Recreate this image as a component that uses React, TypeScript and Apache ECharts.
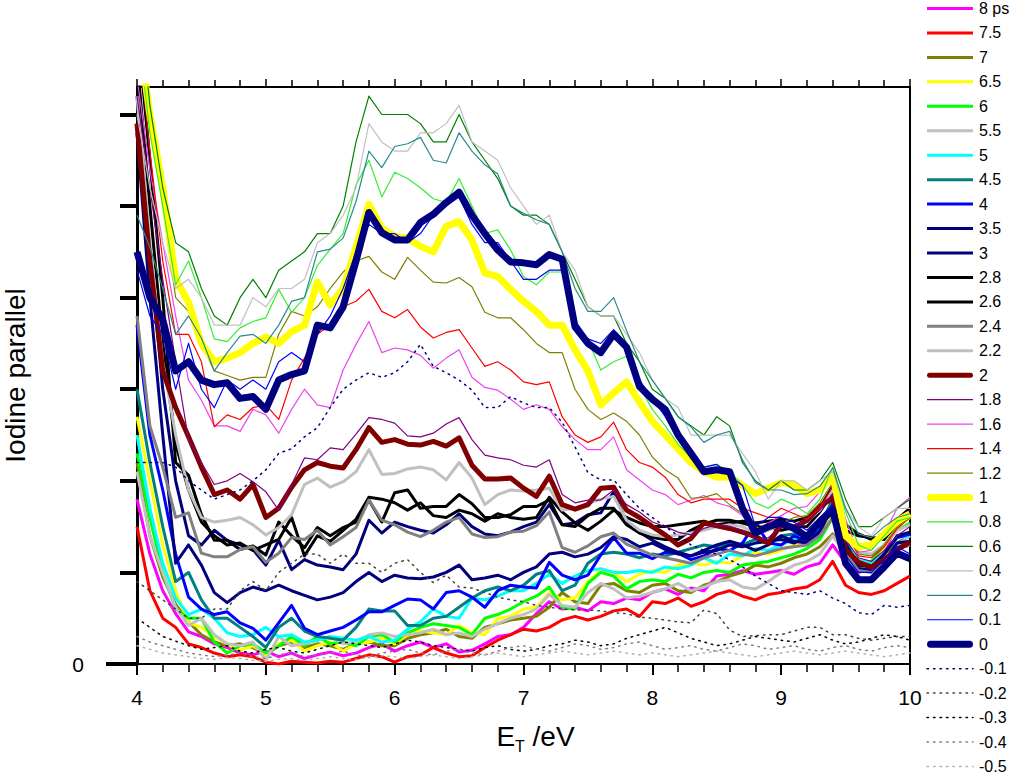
import React, { useEffect, useRef } from 'react';
import * as echarts from 'echarts';

const X = [4,4.1,4.2,4.3,4.4,4.5,4.6,4.7,4.8,4.9,5,5.1,5.2,5.3,5.4,5.5,5.6,5.7,5.8,5.9,6,6.1,6.2,6.3,6.4,6.5,6.6,6.7,6.8,6.9,7,7.1,7.2,7.3,7.4,7.5,7.6,7.7,7.8,7.9,8,8.1,8.2,8.3,8.4,8.5,8.6,8.7,8.8,8.9,9,9.1,9.2,9.3,9.4,9.5,9.6,9.7,9.8,9.9,10];

const s8p = [18,12,8,5.5,3.5,3,2.2,1.8,1.2,1, 1.4,0.8,1.2,0.6,1,1.3,0.9,1.2,1.8,2.2, 1.4,2,2.4,1.8,2.2,1.3,1.5,2.2,3,3.2, 4,5.5,6.8,6,6.2,5.8,6.8,6.6,7.2,7, 7.8,8.2,7.6,8.3,8,9.6,9.8,10.2,9.8,10, 10.2,9.8,10.6,11,13,11,10,10.4,12,15.5, 17];
const s75 = [15,8,5,4,2.2,1.8,1.2,0.8,1,0.8, 0.2,0,0.3,0.2,0.1,0.3,0.2,0.6,1,0.8, 0.2,0.8,1,1.8,1.2,0.8,0.9,1.8,2.6,3.2, 3.8,3.6,4,4.8,5.2,4.8,5.2,5.8,6,5.2, 6.8,6.6,7.2,6.3,6.8,7.6,8,7.4,7,7.6, 7.8,8.2,8.4,9.2,11.2,8.6,7.8,7.6,8,8.8, 9.6];
const s7 = [22,14,9.5,6.5,4.6,3.2,2.4,2,2.2,1.8, 1,2,2.4,1.8,2.2,2,1.6,2.2,2.4,2, 2,2.8,3.2,3.4,3.8,3,2.8,4,4.4,4.8, 5,5.2,6.2,7.8,6.8,6.6,8.6,8.8,8,7.8, 8.6,8.8,8,7.8,8.6,9,9.6,10,10.8,10.6, 11,11.6,12,12.8,14.2,12,10.6,10.8,12,13.2, 14];
const s65 = [27,20,13,8,4.5,4,3,2.2,1.5,2, 1,2.2,2.6,1.4,2,2.4,1.4,2.2,2.4,2.8, 2.2,3.2,3.6,3.4,3.2,4.2,3.4,3.2,5,5.2, 6,6.2,7.8,7,7.2,9,10.2,10,9,9.8, 10.2,10,10.8,11,10.8,11.2,11,11.8,12.2,12, 12.4,13,13.2,14,16.5,13,11.2,11,12.8,15, 16];
const s6 = [23,16,10,6,5,5,2.4,1.2,2,2.2, 1.2,2,3,2,3,2.2,2.4,2,3,3.2, 2.4,3.4,4,4.4,4.2,4,3.2,5,5.4,6, 6.8,7.4,8.4,6.2,6,8.8,10,9.6,8.2,9, 9.2,9,9.8,9.4,10,10.2,10,10.8,11,11.2, 11.6,12,12.6,13.6,16,12.4,11,11.2,13,14.6, 15.4];
const s55 = [21,14,10,6.2,4.2,5,3.2,2.2,2,2.4, 0.4,3,2,2.2,2.6,3,2.2,2.4,3.2,3.4, 3,3.2,3.4,3.8,3.2,3.4,3,3.8,4.4,5, 5.4,6,7.6,6.4,6.2,7.8,8.8,8.2,7.2,7.4, 7.8,8.2,8.8,8,8.4,9,9.2,8.4,8.2,9, 10,10.8,11.2,12,14,12,10.2,10.4,11.4,13, 14];
const s5 = [25,17,11,7.2,5.4,6,5,3.4,3,3.2, 4,3,3.2,2.4,2.6,3,2.8,2.6,3,2.4, 2.6,3.8,4.6,6,5.2,5,7.2,7,7.4,8, 8,8.8,9.8,8.8,9.6,10.2,10.4,10,10,10.2, 10,10.6,10.4,10.8,11.6,11,12,11.8,12.6,12.4, 13,13.6,14,14.8,17.6,13.4,11.4,11,12,13.8, 14];
const s45 = [30,22,15,9,10,7,5,5,4,3, 1.8,4,5,3.6,3,2.8,2.6,4,6,5.8, 5.8,4.2,4.2,5,5.2,6.2,7.2,8,8.4,8, 8.6,9.8,10.2,8,8.6,11,12,12.2,12,11.6, 12,11.8,12.2,12.6,13,12.8,13.2,13,13.6,13.2, 14,14.2,14,15,18,13.6,10.4,10.2,11.2,12.6, 13];
const s4 = [37,25,19,12,7.3,6,5.4,5.7,4.5,3.9, 2.6,4.5,6.4,3.9,3.2,3.6,4,4.8,5.7,5.7, 6.4,7.1,7,6,7.8,8,7.3,6.2,8,8.6, 8.4,8.3,11.1,9.7,9.2,9.7,11.9,13.8,12.1,12.1, 11.5,12.2,12.1,11.4,11.8,12.6,12.4,13.2,15.4,13.2, 13,14,13.4,14.6,17.4,12.4,10.2,10.4,12,13.8, 14.2];
const s35 = [58,40,25,11,13,10.8,7.8,6.7,7.8,8.4, 8,8.6,8,7.5,7,7.3,7.8,9,10,9, 9.7,9.4,9.3,9.5,10,10.8,9.2,9.4,9.7,9.2, 10,10.6,12,12.2,11.7,12,12.7,13.9,13.6,12.8, 13.2,12.5,12,11.8,12.2,12.4,13,12.8,13.2,13.4, 13.6,13.2,14,15.2,17,13.2,10.4,10.2,11.2,13.2, 13.4];
const s3 = [62,45,30,20,14,13,14.6,13.5,13,12.5, 10.8,13.5,10.3,11.4,10.8,10.6,10.3,12,15.7,14.3, 15.5,15,14.6,14.3,15.2,16.4,15,14.2,14,14.4, 15,15.5,17.4,15.2,15.4,16.3,16.5,18.8,15.5,14.4, 13.5,12.8,12.2,11.8,12.4,13,13.4,13,12.4,13, 14,13.4,13.2,14.4,17.2,12.4,10.8,10.6,12,14, 14.4];
const s28 = [70,55,40,22,20.6,16.3,13.5,13.5,12.5,12.9, 11.9,15.5,14,12.7,14.9,14,14.9,15.5,17.9,15.5, 18.7,19,17,17.2,17.2,18.5,17.5,16,16,16.3, 17.2,17.2,17.9,15.2,15,16.2,17,17,15.2,14.3, 13.8,13.6,13.6,14.6,15.3,15.7,15.7,15.4,15,14.9, 14.6,14.9,15,16.6,18.7,14.6,14,13.8,13.6,15.4, 16.5];
const s26 = [66,50,35,24,19,15.5,14,13,13.2,12.4, 13,13.6,16,11.8,14,13.4,14.6,15.8,18.2,18, 17.6,16.8,17.6,16.2,16,16.8,16.4,15.6,16.4,16, 15.8,16,18.2,16.6,15.4,14.6,15.6,16.8,16,15.4, 15,15,15.2,15.4,15.6,15.2,15.4,15.6,15.4,15.6, 15.8,15.6,16,17,19.4,15.2,14.2,13.6,14,15.8, 17];
const s24 = [38,26,21.5,16,16.5,12.1,11.7,11.7,12.5,12.8, 11.1,12.1,13.8,13.6,14.6,13,13.9,14.9,17.9,15.7, 15.2,14.4,13.9,14.6,15.5,16,14.2,13.8,13.9,14.4, 14.5,15.1,16.6,12.7,12.2,12.9,13.9,14.3,13.1,12.5, 11.9,11.6,11.3,11,11.6,12,12.4,12,11.8,12.2, 12.6,12.8,13,14,16,12.2,10.2,10,11,12.6, 13];
const s22 = [62,46,33,25,19,16,15.5,15.7,16,15.2, 14.1,14.9,16.3,19.6,20.3,19.3,19.9,21,23.4,20.7, 20.8,21.3,21.5,21.2,20.1,22,20.3,17.4,18.5,19, 18.9,19,19.2,16.8,17,17.5,18,18.3,15.7,14.6, 14.1,13.9,14.1,14.3,14.6,15,15.2,15,14.2,14.6, 15.2,15,15.6,16.8,19,14.2,12.2,12,13,14.6, 15.2];
const s2 = [59,44,32,28,24.8,21.5,18.5,19,18,19.6, 16,17,19.3,21.2,22,21.6,21.4,23.4,25.8,24.2, 24.5,24,23.9,24.3,23.8,24.7,21.7,20.2,20.2,20.3, 19.2,18.3,20.5,17.4,16.9,17.4,19.2,19.3,16.8,16, 15,14.1,13,13.7,15.4,15.1,14.8,14.4,13.9,13.2, 15.2,14.9,15.7,17.2,18.1,12.5,11.1,10.6,11.4,12.5, 13.3];
const s18 = [62,52,42,33,24.5,22,19.6,20,20.8,19.9, 18.8,16.8,19.6,22.5,22.3,23.6,23.4,25.1,26.9,26.7, 26.3,24.9,24.8,25.2,26.2,26.9,24.5,22.8,22.5,22.3, 21.7,21.5,22.3,18.5,17.6,17.9,17.9,19,17.4,16.6, 15.5,15,14.4,14.1,14.8,15.2,15,14.6,13.6,13.8, 15,15.2,15.6,16.8,18.6,13.6,11.6,11.2,12.4,14, 15];
const s16 = [64,54,46,38,31,28.8,26,26,25.4,27.8, 27.2,25.2,27.8,30,28.3,28,32.1,34.9,37.4,34, 34.5,34.3,33.7,32.3,33.4,34.3,31.3,30.2,29.9,28.9, 27.8,28.3,27.8,25.9,24.5,23.4,23.4,24.8,21.2,20.1, 19,18.5,17.4,17.9,18.4,17.6,17.2,16.2,14.6,15.4, 16.2,17,17.2,18.8,21,15.8,12.2,12.4,14.2,17, 18.2];
const s14 = [70,56,44,36,36,33,25.9,27.2,26.7,28, 28.3,26.7,31,33.4,36,37,39,39.6,40.9,38.5, 37.8,38.7,36.8,35.6,36.2,36.5,34.5,32.5,33,32.1, 30.8,30.5,30.8,27,25,24.2,24.8,26.4,23.4,22, 21.5,20.4,18.5,17.6,18,18,18,17,16.5,16, 17,16.4,15.8,17,19.4,14.6,11.8,11.6,12.8,14.8, 16];
const s12 = [70,60,50,40,38.5,35,32,31.5,31,31.3, 31.3,36,38.5,38,39,41,42.8,44,44.5,42.8, 42,44.4,43,41.7,41.6,42.2,41.2,38.4,37.8,37.8, 36.5,35,34,34,30,27.8,26.7,27.4,26.5,25, 22.6,21.2,20.3,18.1,18.2,18.6,17.4,16.4,15,14.6, 15.4,16,16.2,17.6,19.8,14.8,12,11.8,13,15, 16];
const s1 = [70,60,52,42,39.5,35,33,33.4,34,35, 35.7,35,36.3,37,41.7,39.2,41,45.5,50.2,47.6, 46.7,46.5,45.6,45,47.8,48.3,46.3,42.7,42.3,40.9, 39.6,38.5,37,37,34.3,32,28.3,29.6,30.8,28.6, 26.5,25,23.5,22,21,20.4,20.4,19.5,18.6,19.2, 19.8,19.6,18.6,19,20.6,14,12.8,13,14.2,15.6, 16.4];
const s08 = [70,58,50,41.4,44,40,35.5,35.2,36.7,37.4, 37.8,40.9,38.4,40,43.5,45.3,47,52.3,55,51, 53.7,53,52,50.8,50.4,53,50,47,47.4,45.2, 42.3,41.4,42.8,42.8,37.3,35.4,32.1,33,33.6,30.3, 27.8,26,24,22.5,21.5,21.8,21,19.5,17.6,17, 18,17.4,16.4,18,21.5,16.6,13,12.4,14,15.6, 16];
const s06 = [75,61,52,46,45,41,38,37,40,42, 40,43,44,45,47,47,50,57,62,60, 60,60,59,57,57,60,57,55,53,50, 49,49,48,45,42,39,38,38,35,33, 30,29,27,26,25,27,26,22,20,19, 20,19,19,20,22,18,15,15,16,17, 18];
const s04 = [60,52,46,41,42,40,37,37,37,40, 39,41,41,42,46,47,49,52,59,57, 56,56,58,58,59,61,57,56,55,52, 50,48,49,45,43,39,38,38,36,34, 31,29,28,25,25,25,25,23,21,18, 20,20,19,20,21,17,15,14,16,17, 17];
const s02 = [49,45.5,41,36,38,35.6,32,34,35.8,36, 35,37,39.6,40,45,45.3,46.5,50.5,56,54.2, 56.5,56.8,57.5,55,54.7,58,56,54.5,53.5,50, 49.2,48.5,48,45,41,38.5,38.5,40,36.4,33, 31,29,27,25.9,24.2,25,25.4,22.3,19.8,19, 19,18.5,18.6,19.4,21.4,17,14.2,13.8,15,16, 16.4];
const s01 = [43,38,36,30,35,30,28,31,30,31, 30,33,34,33,36,38,41,45,48,47, 47,46,47,49,50,51,48,46,46,44, 42,42,43,43,37.5,35.5,35,36.5,35,31, 29,27,24.5,22.5,21.5,21.8,20.5,19.5,15,16, 16,15.5,14.6,16,17.4,11.8,10,10,11.4,12.8, 12];
const s0 = [45,40,37.6,32,33,31,30.5,30.7,29,29.2, 27.8,31,31.6,32,37,36.7,39,44,49.3,47.1, 46.3,46.3,48.2,49.1,50.4,51.5,49,47,45.2,43.9, 43.8,43.6,44.7,44.2,36.8,35,34,36,34.6,30.3, 28.9,27.8,25,23,21,21.2,21,17,14.3,15, 15.4,14.8,13.9,15.5,16.8,11,9.2,9.2,10.6,12.1, 11.5];
const sm01 = [22,22,22,21.5,20,19,18,18.5,19,20, 21.2,23,23.5,24.8,25.8,28,30,31,31.8,31.3, 31.8,33,34.9,32.5,31.8,31,29.9,28,28,29.2, 28.5,28,28,26.4,23.7,20.9,20.1,20.1,18.5,17, 16,15,14,13,12.4,12,11.4,10.6,9.6,8.8, 8,7.8,7.6,8,7.2,6.6,5.6,5.4,6.4,6.2, 6.4];
const sm02 = [9,8,7,6,5,5,6,6,8,9, 8,10,11,12,12,11,12,11,11,10, 11,11.4,10,8.9,9.7,8.4,8.3,7.8,7.3,7, 6.8,6.4,6.2,6,5.9,5.9,5.8,5.6,5.5,5.1, 5,4.8,4.6,4.5,5.9,5.5,3.7,3,3.1,3.2, 3.2,3.6,4,4,3.2,3.2,2.8,2.6,2.8,3, 3];
const sm03 = [5,4,3,2.5,2,1.6,1.8,2,1.4,1.2, 1.6,1.8,1.4,1.2,1.6,2,2.4,2.2,2,1.8, 2.2,2.6,2.4,2,1.8,1.6,1.4,1.8,2,1.6, 1.4,1.6,2,2.2,2.6,2.4,2,2.2,2.8,3.2, 3.6,4,3.4,2.8,2.4,2,2.2,2.6,3,2.8, 2.6,2.4,2.8,3.2,2.6,2.2,2.4,2.8,3.2,3, 2.6];
const sm04 = [3,2.4,2,1.6,1.2,1,0.8,1,1.2,0.8, 0.6,1,1.2,0.8,1,1.2,1.4,1,0.8,1.2, 1.4,1.6,1.2,1,1.4,1.6,1.2,1,1.4,1.8, 2,1.6,1.4,1.8,2.2,2,1.6,1.8,2.2,2.4, 2,1.6,1.8,2,1.6,1.4,1.8,2.2,2,1.6, 1.8,2,1.6,1.4,1.8,2,1.6,1.4,1.8,2, 1.8];
const sm05 = [2,1.6,1.2,1,0.8,0.6,0.5,0.7,0.6,0.4, 0.3,0.5,0.6,0.4,0.6,0.8,0.6,0.5,0.7,0.9, 0.8,0.6,0.8,1,0.8,0.6,0.8,1,1.2,1, 0.8,1,1.2,1.4,1.2,1,1.2,1.4,1.2,1, 1.2,1,0.8,1,1.2,1.4,1.2,1,0.8,1, 1.2,1.4,1.2,1,1.2,1.4,1.2,1,0.8,1, 1.2];

const Y_TICKS = [0, 10, 20, 30, 40, 50, 60];

// name, values, colour, width, dotted
const LINES: [string, number[], string, number, boolean][] = [
  ['8 ps', s8p, '#ff00ff', 3, false],
  ['7.5', s75, '#ff0000', 3, false],
  ['7', s7, '#808000', 3, false],
  ['6.5', s65, '#ffff00', 3, false],
  ['6', s6, '#00ff00', 3, false],
  ['5.5', s55, '#c0c0c0', 3, false],
  ['5', s5, '#00ffff', 3, false],
  ['4.5', s45, '#008080', 3, false],
  ['4', s4, '#0000ff', 3, false],
  ['3.5', s35, '#000080', 3, false],
  ['3', s3, '#00007a', 3, false],
  ['2.8', s28, '#000000', 3, false],
  ['2.6', s26, '#000000', 3, false],
  ['2.4', s24, '#808080', 3, false],
  ['2.2', s22, '#c0c0c0', 3, false],
  ['2', s2, '#800000', 5, false],
  ['1.8', s18, '#800080', 1.2, false],
  ['1.6', s16, '#ee44ee', 1.2, false],
  ['1.4', s14, '#ff0000', 1.2, false],
  ['1.2', s12, '#808000', 1.2, false],
  ['1', s1, '#ffff00', 7, false],
  ['0.8', s08, '#33ee33', 1.2, false],
  ['0.6', s06, '#008000', 1.2, false],
  ['0.4', s04, '#c0c0c0', 1.2, false],
  ['0.2', s02, '#2a8a8a', 1.2, false],
  ['0.1', s01, '#0000ff', 1.2, false],
  ['0', s0, '#000080', 7, false],
  ['-0.1', sm01, '#000080', 1.5, true],
  ['-0.2', sm02, '#404040', 1.5, true],
  ['-0.3', sm03, '#000000', 1.5, true],
  ['-0.4', sm04, '#808080', 1.5, true],
  ['-0.5', sm05, '#b0b0b0', 1.5, true],
];

const FONT = '"Liberation Sans", Arial, sans-serif';
const DOT = [1.5, 5];

// legend drawn as graphic items (line sample + label) in a column at the right
function legendGraphics() {
  const out: any[] = [];
  const x1 = 927, x2 = 973, top = 8.5, step = 24.45;
  LINES.forEach(([name, , color, width, dotted], i) => {
    const y = top + i * step;
    const round = width >= 5;
    out.push({
      type: 'line',
      silent: true,
      shape: { x1: round ? x1 + width / 2 : x1, y1: y, x2: round ? x2 - width / 2 : x2, y2: y },
      style: {
        stroke: color, lineWidth: dotted ? 1.5 : width,
        lineDash: dotted ? DOT : null, lineCap: round || dotted ? 'round' : 'butt',
      },
    });
    out.push({
      type: 'text',
      silent: true,
      x: 979,
      y,
      style: { text: name, fill: '#000', fontSize: 16, fontFamily: FONT, verticalAlign: 'middle', align: 'left' },
    });
  });
  return out;
}

export default function App() {
  const ref = useRef<HTMLDivElement>(null);
  useEffect(() => {
    const chart = echarts.init(ref.current!, null, { renderer: 'svg' });
    const series = LINES.map(([name, vals, color, width, dotted]) => ({
      type: 'line',
      name,
      data: X.map((x, i) => [x, vals[i]]),
      symbol: 'none',
      showSymbol: false,
      clip: true,
      emphasis: { disabled: true },
      itemStyle: { color, opacity: 0 },
      lineStyle: {
        color,
        width,
        type: dotted ? DOT : 'solid',
        join: 'round',
        cap: dotted ? 'round' : 'butt',
      },
    }));
    chart.setOption({
      animation: false,
      backgroundColor: '#ffffff',
      textStyle: { fontFamily: FONT, color: '#000' },
      grid: { left: 137, right: 107, top: 87, bottom: 112, containLabel: false, outerBoundsMode: 'none' },
      xAxis: [
        {
          type: 'value', min: 4, max: 10, interval: 1, position: 'bottom',
          axisLine: { show: true, onZero: false, lineStyle: { color: '#000', width: 2 } },
          axisTick: { show: true, length: 11, lineStyle: { color: '#000', width: 2 } },
          minorTick: { show: true, splitNumber: 5, length: 8, lineStyle: { color: '#000', width: 1.5 } },
          axisLabel: { fontSize: 21, color: '#000', margin: 23, fontFamily: FONT },
          splitLine: { show: false },
          name: '{a|E}{s|T}{a| /eV}',
          nameLocation: 'middle',
          nameGap: 58,
          nameTextStyle: {
            padding: [0, 0, 0, 24],
            rich: {
              a: { fontSize: 28, lineHeight: 32, color: '#000', fontFamily: FONT, verticalAlign: 'top' },
              s: { fontSize: 16, lineHeight: 16, color: '#000', fontFamily: FONT, verticalAlign: 'bottom' },
            },
          },
        },
        {
          type: 'value', min: 4, max: 10, interval: 1, position: 'top',
          axisLine: { show: true, onZero: false, lineStyle: { color: '#000', width: 2 } },
          axisTick: { show: true, length: 8, lineStyle: { color: '#000', width: 1.5 } },
          minorTick: { show: true, splitNumber: 5, length: 7, lineStyle: { color: '#000', width: 1.5 } },
          axisLabel: { show: false },
          splitLine: { show: false },
        },
      ],
      yAxis: [
        {
          type: 'value', min: 0, max: 63, interval: 10,
          axisLine: { show: true, onZero: false, lineStyle: { color: '#000', width: 3 } },
          axisTick: { show: true, length: 17, customValues: Y_TICKS, lineStyle: { color: '#000', width: 4 } },
          axisLabel: {
            customValues: [0], fontSize: 21, color: '#000', margin: 53, fontFamily: FONT,
            formatter: (v: number) => (v === 0 ? '0' : ''),
          },
          splitLine: { show: false },
          name: 'Iodine parallel',
          nameLocation: 'middle',
          nameGap: 108,
          nameTextStyle: { fontSize: 28, color: '#000', fontFamily: FONT },
        },
        {
          type: 'value', min: 0, max: 63, position: 'right',
          axisLine: { show: true, onZero: false, lineStyle: { color: '#000', width: 2 } },
          axisTick: { show: false },
          axisLabel: { show: false },
          splitLine: { show: false },
        },
      ],
      graphic: [
        { type: 'line', silent: true, shape: { x1: 106, y1: 664, x2: 137, y2: 664 }, style: { stroke: '#000', lineWidth: 4 } },
        ...legendGraphics(),
      ],
      series,
    });
    return () => chart.dispose();
  }, []);
  return <div ref={ref} style={{ position: 'absolute', left: 0, top: 0, width: 1017, height: 776 }} />;
}
